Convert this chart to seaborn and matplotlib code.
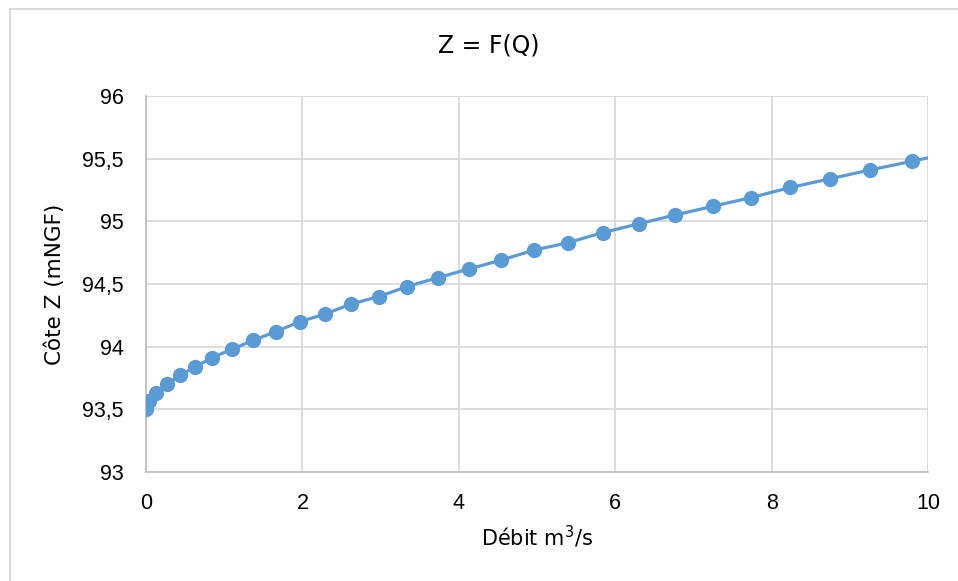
import matplotlib
matplotlib.use("Agg")
import matplotlib.pyplot as plt
import seaborn as sns
import pandas as pd
from matplotlib.patches import Rectangle

# Data
debit = [0.00, 0.04, 0.13, 0.27, 0.43, 0.63, 0.84, 1.10, 1.37, 1.66,
         1.97, 2.29, 2.62, 2.98, 3.34, 3.73, 4.13, 4.54, 4.96, 5.40,
         5.84, 6.30, 6.76, 7.25, 7.74, 8.24, 8.75, 9.26, 9.80, 10.33]
cote = [93.50, 93.57, 93.63, 93.70, 93.77, 93.84, 93.91, 93.98, 94.05, 94.12,
        94.20, 94.26, 94.34, 94.40, 94.48, 94.55, 94.62, 94.69, 94.77, 94.83,
        94.91, 94.98, 95.05, 95.12, 95.19, 95.27, 95.34, 95.41, 95.48, 95.55]
x_ticks = [0, 2, 4, 6, 8, 10]
x_tick_labels = ["0", "2", "4", "6", "8", "10"]
y_ticks = [93, 93.5, 94, 94.5, 95, 95.5, 96]
y_tick_labels = ["93", "93,5", "94", "94,5", "95", "95,5", "96"]

sns.set_theme(style="white")
plt.rcParams["font.family"] = ["Liberation Sans", "DejaVu Sans"]

fig = plt.figure(figsize=(9.58, 5.81), dpi=100)
ax = fig.add_axes([146/958, 1-472/581, (928-146)/958, (472-96)/581])

df = pd.DataFrame({"Q": debit, "Z": cote})
color = "#5b9bd5"
sns.lineplot(data=df, x="Q", y="Z", ax=ax, color=color, linewidth=2.3,
             marker="o", markersize=11, markeredgecolor=color,
             markerfacecolor=color, markeredgewidth=0, zorder=3, sort=False)

ax.set_xlim(0, 10)
ax.set_ylim(93, 96)
ax.set_xticks(x_ticks)
ax.set_xticklabels(x_tick_labels)
ax.set_yticks(y_ticks)
ax.set_yticklabels(y_tick_labels)
ax.tick_params(axis="both", length=0, labelsize=15.5, colors="#000000")
ax.tick_params(axis="y", pad=16)
ax.tick_params(axis="x", pad=15)

ax.grid(True, color="#d9d9d9", linewidth=1.3)
ax.set_axisbelow(True)
for s in ["top", "right"]:
    ax.spines[s].set_visible(False)
for s in ["left", "bottom"]:
    ax.spines[s].set_color("#bfbfbf")
    ax.spines[s].set_linewidth(1.3)
    ax.spines[s].set_zorder(2)

lab_font = ["DejaVu Sans"]
ax.set_xlabel("Débit m$^3$/s", fontsize=15, color="#000000", labelpad=7, family=lab_font)
ax.set_ylabel("Côte Z (mNGF)", fontsize=15.5, color="#000000", labelpad=12, family=lab_font)
fig.text(489/958, 1-46/581, "Z = F(Q)", fontsize=17, ha="center", va="center",
         color="#000000", family=lab_font)

# outer chart border
fig.patches.append(Rectangle((10/958, -0.1), 1.2, 1 - 9/581 + 0.1, transform=fig.transFigure,
                             fill=False, edgecolor="#d9d9d9", linewidth=1.5))

fig.savefig("out.png", dpi=100)
